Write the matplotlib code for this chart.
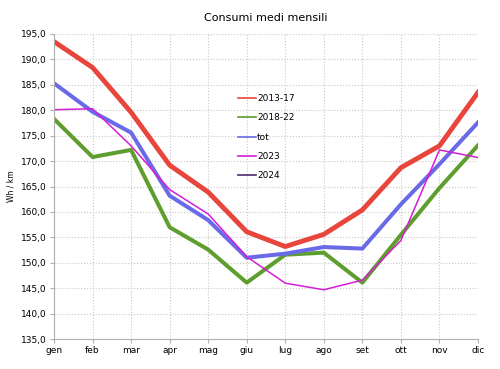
import matplotlib.pyplot as plt
from matplotlib.ticker import FuncFormatter

mesi = ['gen', 'feb', 'mar', 'apr', 'mag', 'giu', 'lug', 'ago', 'set', 'ott', 'nov', 'dic']
v_2013_17 = [193.5, 188.4, 179.6, 169.2, 163.9, 156.1, 153.2, 155.6, 160.4, 168.7, 173.0, 183.5]
v_2018_22 = [178.3, 170.8, 172.2, 157.0, 152.6, 146.1, 151.6, 152.0, 146.1, 155.5, 164.7, 173.1]
v_tot = [185.3, 179.7, 175.6, 163.2, 158.4, 151.0, 151.8, 153.1, 152.8, 161.5, 169.4, 177.6]
v_2023 = [180.1, 180.3, 173.0, 164.4, 159.6, 151.2, 146.0, 144.7, 146.6, 154.4, 172.2, 170.7]
v_2024 = []

fig = plt.figure(figsize=(5, 3.69), dpi=100)
ax = fig.add_axes([0.108, 0.081, 0.848, 0.827])

x = list(range(len(mesi)))
ax.plot(x, v_2013_17, color='#e8453c', lw=3.5, label='2013-17')
ax.plot(x, v_2018_22, color='#5e9e2e', lw=2.9, label='2018-22')
ax.plot(x, v_tot, color='#6a6ae8', lw=2.9, label='tot')
ax.plot(x, v_2023, color='#d41ed4', lw=1.1, label='2023')
ax.plot(x[:len(v_2024)], v_2024, color='#4b2a6e', lw=1.1, label='2024')

ax.set_xlim(0, 11)
ax.set_ylim(135, 195)
ax.set_xticks(x)
ax.set_xticklabels(mesi)
ax.set_yticks(range(135, 196, 5))
ax.yaxis.set_major_formatter(FuncFormatter(lambda v, p: f'{v:.1f}'.replace('.', ',')))
ax.tick_params(labelsize=6.5, length=3, color='#b0b0b0', pad=2)
ax.grid(True, color='#c8c8c8', linestyle=':', linewidth=0.8)
for s in ['top', 'right']:
    ax.spines[s].set_visible(False)
for s in ['left', 'bottom']:
    ax.spines[s].set_color('#b0b0b0')

ax.set_title('Consumi medi mensili', fontsize=8, pad=9)
ax.set_ylabel('Wh / km', fontsize=5.5, labelpad=4)

leg = ax.legend(loc='upper left', bbox_to_anchor=(0.415, 0.83), frameon=False,
                fontsize=6.5, handlelength=2.0, handletextpad=0.1, labelspacing=1.15)
for h in leg.get_lines():
    h.set_linewidth(1.2)

fig.savefig('out.png', dpi=100)
